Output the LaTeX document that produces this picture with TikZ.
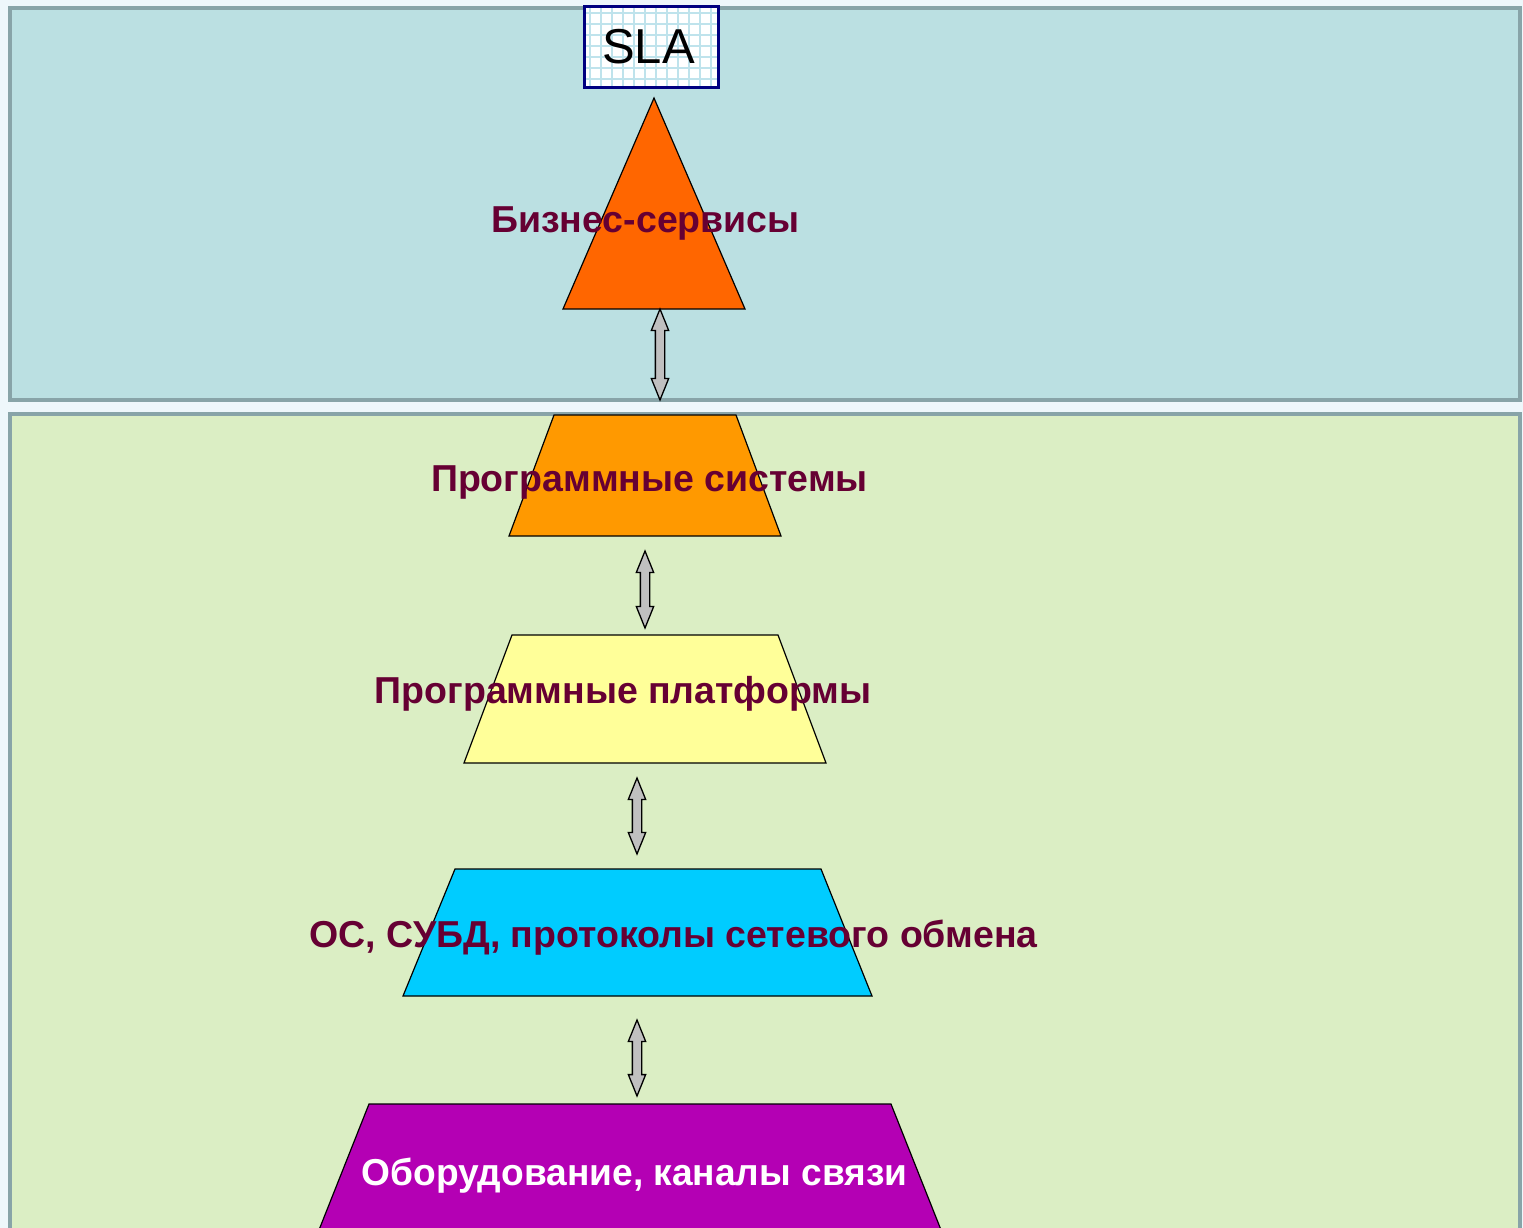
\documentclass[tikz,border=0pt]{standalone}
\usepackage{fontspec}
\setmainfont{Liberation Sans}
\usetikzlibrary{shapes.arrows}
\definecolor{pagebg}{HTML}{EEF7FB}
\definecolor{panelline}{HTML}{88A4A8}
\definecolor{toppanel}{HTML}{BBE0E2}
\definecolor{lowpanel}{HTML}{DBEEC4}
\definecolor{labelred}{HTML}{660033}
\definecolor{slagrid}{HTML}{BFE3EC}
\definecolor{slaframe}{HTML}{000080}
\definecolor{bizfill}{HTML}{FF6600}
\definecolor{sysfill}{HTML}{FF9900}
\definecolor{platfill}{HTML}{FFFF99}
\definecolor{osfill}{HTML}{00CCFF}
\definecolor{hwfill}{HTML}{B400B4}
\definecolor{arrowfill}{HTML}{C0C0C0}
\tikzset{
  panel/.style={draw=panelline, line width=4pt},
  layer/.style={draw=black, line width=1.2pt},
  layertext/.style={font=\bfseries\fontsize{37.5}{40}\selectfont, text=labelred,
    inner sep=0pt, anchor=base},
  dblarrow/.style={double arrow, draw=black, fill=arrowfill, line width=1.3pt,
    inner xsep=0pt, inner ysep=4pt, double arrow head extend=4pt,
    double arrow tip angle=44, rotate=90, minimum width=0pt}
}
\begin{document}
\begin{tikzpicture}[x=1pt,y=-1pt]
\useasboundingbox (0,0) rectangle (1523,1228);
\fill[pagebg] (0,0) rectangle (1523,1228);

% two background panels
\filldraw[panel, fill=toppanel] (10,8) rectangle (1520,400);
\filldraw[panel, fill=lowpanel] (10,414) rectangle (1520,1240);

% SLA box with its fine grid
\fill[white] (584,7) rectangle (718,88);
\begin{scope}
  \clip (584,7) rectangle (718,88);
  \foreach \gx in {590,601,...,718} \draw[slagrid, line width=2pt] (\gx,7) -- (\gx,88);
  \foreach \gy in {13,24,...,88} \draw[slagrid, line width=2pt] (584,\gy) -- (718,\gy);
\end{scope}
\draw[slaframe, line width=3pt] (584,7) rectangle (718,88);
\node[inner sep=0pt, anchor=base] (sla) at (648.5,64) {\fontsize{49}{52}\selectfont SLA};

% layers of the pyramid
\filldraw[layer, fill=bizfill] (654,98) -- (745,309) -- (563,309) -- cycle;
\node[layertext] (biztext) at (645.5,232) {Бизнес-сервисы};

\filldraw[layer, fill=sysfill] (554,415) -- (736,415) -- (781,536) -- (509,536) -- cycle;
\node[layertext] (systext) at (649.5,491) {Программные системы};

\filldraw[layer, fill=platfill] (512,635) -- (778,635) -- (826,763) -- (464,763) -- cycle;
\node[layertext] (plattext) at (623,703) {Программные платформы};

\filldraw[layer, fill=osfill] (455,869) -- (821,869) -- (872,996) -- (403,996) -- cycle;
\node[layertext] (ostext) at (673.5,947) {ОС, СУБД, протоколы сетевого обмена};

\filldraw[layer, fill=hwfill] (369,1104) -- (891,1104) -- (945,1240) -- (315,1240) -- cycle;
\node[layertext, text=white] (hwtext) at (634.5,1185)
  {\scalebox{0.99}[1]{Оборудование, каналы связи}};

% two-way links between the layers
\node[dblarrow, minimum height=91pt] (l1) at (660,354.5) {};
\node[dblarrow, minimum height=77pt] (l2) at (645,589.5) {};
\node[dblarrow, minimum height=76pt] (l3) at (637,816) {};
\node[dblarrow, minimum height=76pt] (l4) at (637,1058) {};
\end{tikzpicture}
\end{document}
